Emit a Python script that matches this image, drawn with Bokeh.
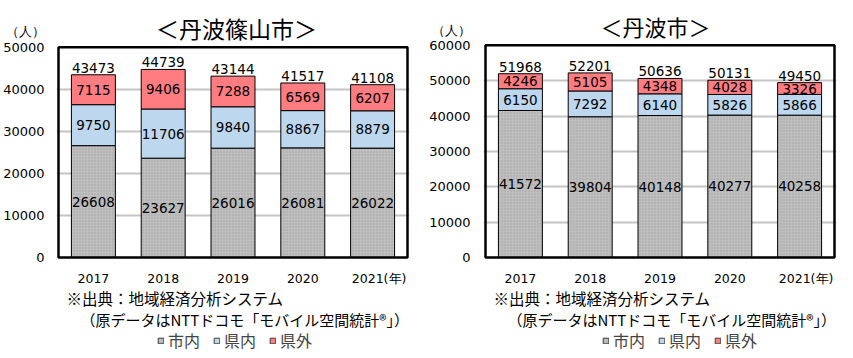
from bokeh.plotting import figure
from bokeh.models import Range1d, FixedTicker, Label, Legend, LegendItem, ColumnDataSource
from bokeh.layouts import row, column
from bokeh.embed import file_html
from bokeh.resources import INLINE
from bokeh.core.properties import value

years = ["2017", "2018", "2019", "2020", "2021"]
x_tick_labels = ["2017", "2018", "2019", "2020", "\u30002021(年)"]
legend_labels = ["市内", "県内", "県外"]

sasayama_shinai = [26608, 23627, 26016, 26081, 26022]
sasayama_kennai = [9750, 11706, 9840, 8867, 8879]
sasayama_kengai = [7115, 9406, 7288, 6569, 6207]
sasayama_total = [43473, 44739, 43144, 41517, 41108]

tamba_shinai = [41572, 39804, 40148, 40277, 40258]
tamba_kennai = [6150, 7292, 6140, 5826, 5866]
tamba_kengai = [4246, 5105, 4348, 4028, 3326]
tamba_total = [51968, 52201, 50636, 50131, 49450]

title_left = "＜丹波篠山市＞"
title_right = "＜丹波市＞"
unit_text = "（人）"
source1 = "※出典：地域経済分析システム"
source2 = "（原データはNTTドコモ「モバイル空間統計®」）"

colors = ["#BFBFBF", "#BDD7EE", "#FF7C80"]
hatches = ["dot", " ", " "]
JP = "Noto Sans CJK JP"
NUM = "DejaVu Sans"
W = 853
CAT_PX = 69.8      # pixels per category
PAD_PX = 2         # frame padding beyond drawn border


def make_chart(shinai, kennai, kengai, total, ymax, plot_h, width, page_left, bl, br,
               y_standoff, title, title_px, title_size, unit_py):
    n = len(years)
    ppu = plot_h / ymax  # pixels per data unit
    y0_page = 258        # page y of value 0
    y_range = Range1d(-PAD_PX / ppu, y0_page / ppu)
    x_range = Range1d(-PAD_PX / CAT_PX, n + PAD_PX / CAT_PX)
    p = figure(x_range=x_range, y_range=y_range, width=width, height=288,
               output_backend="svg", toolbar_location=None,
               min_border_left=bl, min_border_right=br, min_border_top=0,
               min_border_bottom=288 - 260)
    xs = [i + 0.5 for i in range(n)]
    src = ColumnDataSource(dict(
        x=xs, shinai=shinai, kennai=kennai, kengai=kengai, total=total,
        y1=[a / 2 for a in shinai],
        y2=[a + b / 2 for a, b in zip(shinai, kennai)],
        y3=[a + b + c / 2 for a, b, c in zip(shinai, kennai, kengai)],
        t1=[str(v) for v in shinai], t2=[str(v) for v in kennai],
        t3=[str(v) for v in kengai], tt=[str(v) for v in total]))
    p.vbar_stack(["shinai", "kennai", "kengai"], x="x", width=0.63, source=src,
                 fill_color=colors, line_color="black", line_width=1,
                 hatch_pattern=hatches, hatch_color="#8C8C8C",
                 hatch_scale=3, hatch_weight=1, hatch_alpha=0.6)
    for yk, tk in [("y1", "t1"), ("y2", "t2"), ("y3", "t3")]:
        p.text(x="x", y=yk, text=tk, source=src, text_align="center",
               text_baseline="middle", text_font=value(NUM), text_font_size="13.5px",
               text_color="black")
    p.text(x="x", y="total", text="tt", source=src, text_align="center",
           text_baseline="alphabetic", y_offset=-7, text_font=value(NUM),
           text_font_size="13.5px", text_color="black")

    # plot-area border
    p.quad(left=[0], right=[n], bottom=[0], top=[ymax], fill_color=None,
           line_color="black", line_width=2.5)
    p.outline_line_color = None

    y_ticks = list(range(0, ymax + 1, 10000))
    unit_y = round((y0_page - unit_py) / ppu, -1)
    p.xgrid.grid_line_color = None
    p.ygrid.ticker = FixedTicker(ticks=y_ticks[1:-1])
    p.ygrid.grid_line_color = "#C4C4C4"
    p.ygrid.grid_line_width = 2
    p.yaxis.ticker = FixedTicker(ticks=y_ticks + [unit_y])
    p.yaxis.major_label_overrides = {unit_y: unit_text}
    p.xaxis.ticker = FixedTicker(ticks=xs)
    p.xaxis.major_label_overrides = dict(zip(xs, x_tick_labels))
    for ax in (p.xaxis[0], p.yaxis[0]):
        ax.axis_line_color = None
        ax.major_tick_line_color = None
        ax.minor_tick_line_color = None
        ax.major_tick_out = 0
        ax.major_tick_in = 0
        ax.minor_tick_out = 0
        ax.minor_tick_in = 0
        ax.major_label_text_color = "black"
        ax.major_label_text_font = NUM
    p.yaxis.major_label_text_font_size = "13px"
    p.yaxis.major_label_standoff = y_standoff
    p.xaxis.major_label_text_font_size = "12.5px"
    p.xaxis.major_label_standoff = 11

    frame_left_page = page_left + bl + PAD_PX
    tx = (title_px[0] - frame_left_page) / CAT_PX
    ty = (y0_page - title_px[1]) / ppu
    p.add_layout(Label(x=tx, y=ty, text=title, text_font=JP, text_font_size=title_size,
                       text_align="center", text_baseline="middle", text_color="black"))
    return p


p1 = make_chart(sasayama_shinai, sasayama_kennai, sasayama_kengai, sasayama_total,
                50000, 211, 425, 0, 56, 16, 12, title_left, (236, 28), "23px", 31)
p2 = make_chart(tamba_shinai, tamba_kennai, tamba_kengai, tamba_total,
                60000, 213, 428, 425, 58, 17, 13, title_right, (655, 26), "22px", 30)

# footer (page y 288..358, data coordinates equal page pixels)
footer = figure(width=W, height=70, x_range=Range1d(0, W), y_range=Range1d(358, 288),
                x_axis_type=None, y_axis_type=None, output_backend="svg",
                toolbar_location=None, min_border=0)
footer.outline_line_color = None
footer.grid.visible = False


def lab(f, text, x, y, size):
    f.add_layout(Label(x=x, y=y, text=text, text_font=JP, text_font_size=size,
                       text_align="left", text_baseline="middle", text_color="black"))


lab(footer, source1, 66, 297, "15.5px")
lab(footer, source2, 80, 319, "15px")
lab(footer, source1, 493, 297, "15.5px")
lab(footer, source2, 507, 319, "15px")

# legend swatches (renderers with no drawable point, used only for legend glyphs)
nan = float("nan")
dummy = [footer.vbar(x=[nan], top=[nan], bottom=[nan], width=1, fill_color=c,
                     line_color="#404040", hatch_pattern=h, hatch_color="#8C8C8C",
                     hatch_scale=3, hatch_weight=1, hatch_alpha=0.6)
         for c, h in zip(colors, hatches)]
for lx in (157, 602):
    footer.add_layout(Legend(
        items=[LegendItem(label=l, renderers=[r]) for l, r in zip(legend_labels, dummy)],
        orientation="horizontal", location=(lx, 6),
        glyph_width=7, glyph_height=7, label_standoff=4, spacing=13,
        padding=0, margin=0, border_line_color=None, background_fill_alpha=0,
        label_text_font=JP, label_text_font_size="16px", label_height=18))

layout = column(row(p1, p2), footer)
open("out.html", "w").write(file_html(layout, INLINE))
